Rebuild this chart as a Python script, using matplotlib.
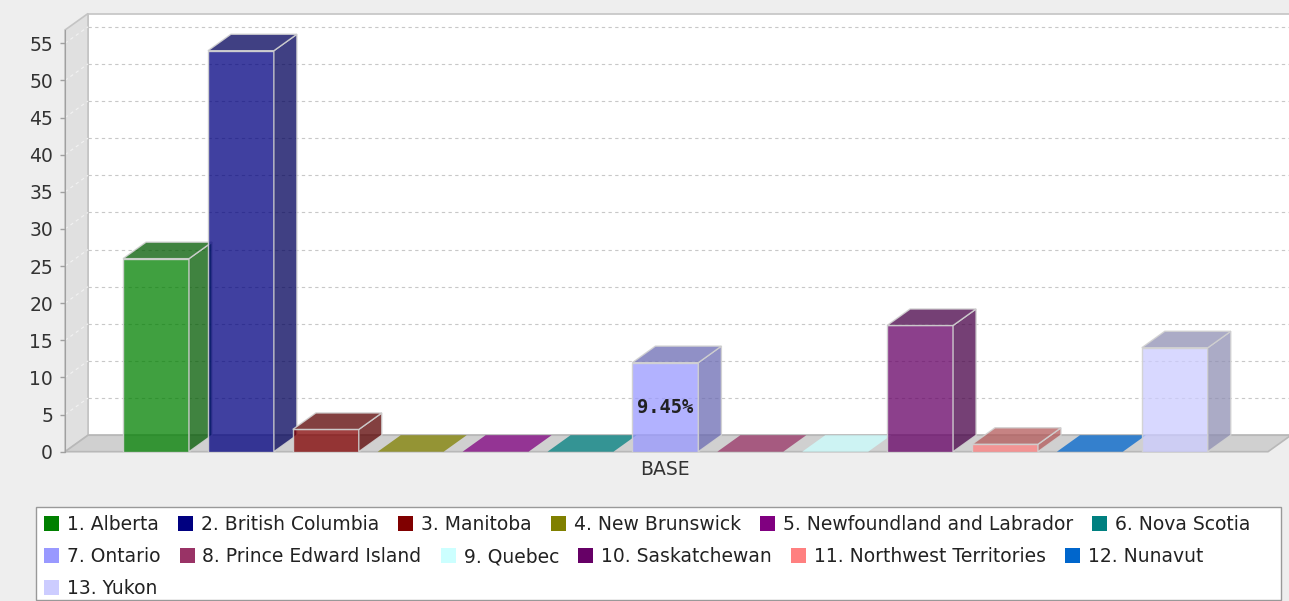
import matplotlib
matplotlib.use("Agg")
import matplotlib.pyplot as plt
from matplotlib.patches import Polygon, Rectangle
import matplotlib.colors as mcolors

# data
provinces = ["1. Alberta", "2. British Columbia", "3. Manitoba", "4. New Brunswick",
             "5. Newfoundland and Labrador", "6. Nova Scotia", "7. Ontario",
             "8. Prince Edward Island", "9. Quebec", "10. Saskatchewan",
             "11. Northwest Territories", "12. Nunavut", "13. Yukon"]
counts = [26, 54, 3, 0, 0, 0, 12, 0, 0, 17, 1, 0, 14]
colors = ["#008000", "#000080", "#800000", "#808000", "#800080", "#008080", "#9999ff",
          "#993366", "#ccffff", "#660066", "#ff8080", "#0066cc", "#ccccff"]
category = "BASE"
y_ticks = list(range(0, 60, 5))
labelled = ["7. Ontario"]
legend_rows = [6, 6, 1]

W, H = 1289, 601
ALPHA = 0.75
bar_w = 0.777
dx, dy = 0.271, 2.22      # 3d depth, data units
fs = 13.5

fig = plt.figure(figsize=(W / 100, H / 100), dpi=100, facecolor="#eeeeee")
ax = fig.add_axes([65 / W, (H - 451.7) / H, (1268 - 65) / W, (451.7 - 30) / H])
ax.set_facecolor("none")
x0, x1 = -1.072, 13.098
y1 = 56.79
ax.set_xlim(x0, x1)
ax.set_ylim(0, y1)

wall = "#c4c4c4"
# back wall, left wall, floor
ax.add_patch(Polygon([(x0 + dx, dy), (x1 + dx, dy), (x1 + dx, y1 + dy), (x0 + dx, y1 + dy)],
                     closed=True, fc="white", ec=wall, lw=1.2, clip_on=False, zorder=0))
ax.add_patch(Polygon([(x0, 0), (x0 + dx, dy), (x0 + dx, y1 + dy), (x0, y1)],
                     closed=True, fc="#e0e0e0", ec=wall, lw=1.2, clip_on=False, zorder=0.2))
ax.add_patch(Polygon([(x0, 0), (x1, 0), (x1 + dx, dy), (x0 + dx, dy)],
                     closed=True, fc="#d0d0d0", ec="#b8b8b8", lw=1.2, clip_on=False, zorder=0.2))

for v in y_ticks[1:]:
    ax.plot([x0 + dx, x1 + dx], [v + dy, v + dy], color="#c8c8c8", lw=0.8,
            ls=(0, (3, 3)), clip_on=False, zorder=0.1)
    ax.plot([x0, x0 + dx], [v, v + dy], color="#f2f2f2", lw=0.8,
            ls=(0, (3, 3)), clip_on=False, zorder=0.3)

total = sum(counts)
for i, (name, n, c) in enumerate(zip(provinces, counts, colors)):
    rgb = mcolors.to_rgb(c)
    front = (*rgb, ALPHA)
    dark = (*[k * 0.7 for k in rgb], ALPHA)
    a, b = i - bar_w / 2, i + bar_w / 2
    z = 2 + i * 0.01
    edge = (0.82, 0.82, 0.82, 0.9)
    if n == 0:
        ax.add_patch(Polygon([(a, 0), (b, 0), (b + dx, dy), (a + dx, dy)], closed=True,
                             fc=front, ec="none", zorder=z))
        continue
    ax.add_patch(Rectangle((a, 0), bar_w, n, fc=front, ec=edge, lw=1, zorder=z))
    ax.add_patch(Polygon([(b, 0), (b + dx, dy), (b + dx, n + dy), (b, n)], closed=True,
                         fc=dark, ec=edge, lw=1, zorder=z))
    ax.add_patch(Polygon([(a, n), (b, n), (b + dx, n + dy), (a + dx, n + dy)], closed=True,
                         fc=dark, ec=edge, lw=1, zorder=z))
    if name in labelled:
        ax.text(i, n / 2, f"{n / total * 100:.2f}%", ha="center", va="center",
                family="DejaVu Sans Mono", weight="bold", fontsize=fs, color="#222222",
                zorder=5)

for s in ["top", "right", "bottom"]:
    ax.spines[s].set_visible(False)
ax.spines["left"].set_color("#a0a0a0")
ax.set_yticks(y_ticks)
ax.tick_params(axis="y", length=3.6, width=1, color="#a0a0a0", pad=5,
               labelsize=fs, labelcolor="#333333")
ax.set_xticks([(len(provinces) - 1) / 2], [category])
ax.tick_params(axis="x", length=0, pad=6, labelsize=fs, labelcolor="#333333")

# legend box, flow layout
def fx(px):
    return px / W

def fy(py):
    return 1 - py / H

fig.patches.append(Rectangle((fx(36), fy(600)), fx(1281) - fx(36), fy(507) - fy(600),
                             transform=fig.transFigure, fc="white", ec="#999999", lw=1))
renderer = fig.canvas.get_renderer()
k = 0
for r, cnt in enumerate(legend_rows):
    yc = 523 + r * 32
    x = 44
    for name, c in zip(provinces[k:k + cnt], colors[k:k + cnt]):
        fig.patches.append(Rectangle((fx(x), fy(yc + 7.5)), fx(15), 15 / H,
                                     transform=fig.transFigure, fc=c, ec="none"))
        t = fig.text(fx(x + 23), fy(yc), name, ha="left", va="center_baseline",
                     fontsize=fs, color="#222222")
        w = t.get_window_extent(renderer).width
        x += 23 + w + 19
    k += cnt

fig.savefig("out.png", dpi=100, facecolor=fig.get_facecolor())
